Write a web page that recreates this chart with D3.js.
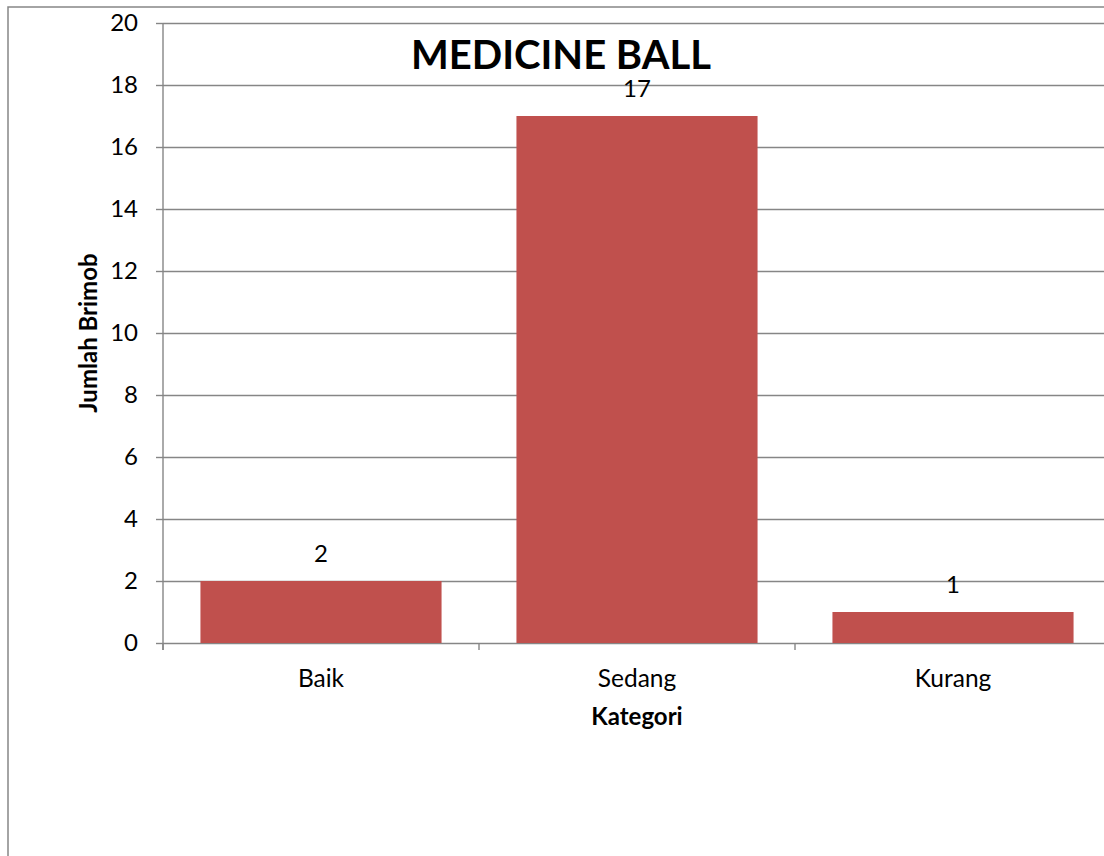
<!DOCTYPE html>
<html lang="en">
<head>
    <meta charset="UTF-8">
    <title>Medicine Ball</title>
    <style>
    body { margin: 0; background: #fff; }
    svg { display: block; font-family: Lato, "Noto Sans", sans-serif; }
    .grid line { stroke: #868686; stroke-width: 1.4px; }
    .grid path { display: none; }
    .axis path, .axis line { stroke: #868686; stroke-width: 1.4px; }
    .axis text { fill: #000; }
    </style>
</head>
<body>
    <svg width="1104" height="856"></svg>
    <script src="https://d3js.org/d3.v7.min.js"></script>
    <script type="text/javascript">
        var categories = ["Baik", "Sedang", "Kurang"];
        var values = [2, 17, 1];
        var yTicks = [0, 2, 4, 6, 8, 10, 12, 14, 16, 18, 20];

        var svg = d3.select("svg"),
            margin = {top: 23, left: 163},
            width = 948,
            height = 620,
            g = svg.append("g").attr("transform", "translate(" + margin.left + "," + margin.top + ")");

        // outer chart border (cropped at right and bottom)
        svg.append("rect")
            .attr("x", 8).attr("y", 7)
            .attr("width", 1120).attr("height", 880)
            .attr("fill", "none")
            .attr("stroke", "#868686")
            .attr("stroke-width", 1.5);

        var x = d3.scaleBand().domain(categories).range([0, width])
                .paddingInner(0.237).paddingOuter(0.1185),
            y = d3.scaleLinear().domain([0, 20]).range([height, 0]);

        // gridlines
        g.append("g")
            .attr("class", "grid")
            .call(d3.axisLeft(y).tickValues(yTicks).tickSize(-width).tickFormat(""));

        // bars
        g.selectAll(".bar")
            .data(values)
            .enter().append("rect")
              .attr("class", "bar")
              .attr("x", function(d, i) { return x(categories[i]); })
              .attr("y", function(d) { return y(d); })
              .attr("width", x.bandwidth())
              .attr("height", function(d) { return height - y(d); })
              .attr("fill", "#c0504d");

        // data labels
        g.selectAll(".label")
            .data(values)
            .enter().append("text")
              .attr("class", "label")
              .attr("x", function(d, i) { return x(categories[i]) + x.bandwidth() / 2; })
              .attr("y", function(d) { return y(d) - 19; })
              .attr("text-anchor", "middle")
              .attr("font-size", "24px")
              .text(function(d) { return d; });

        // y axis
        var yAxis = g.append("g")
            .attr("class", "axis axis-y")
            .call(d3.axisLeft(y).tickValues(yTicks).tickSize(7).tickSizeOuter(0).tickPadding(18));
        yAxis.selectAll("text").attr("font-size", "24px").attr("font-family", "Lato, sans-serif");
        yAxis.select(".domain").attr("d", "M0,0V" + (height + 7));

        // x axis: category labels plus boundary ticks
        var xAxis = g.append("g")
            .attr("class", "axis axis-x")
            .attr("transform", "translate(0," + height + ")")
            .call(d3.axisBottom(x).tickSize(0).tickSizeOuter(0).tickPadding(27));
        xAxis.selectAll("text").attr("font-size", "24.5px").attr("font-family", "Lato, sans-serif");
        xAxis.select(".domain").remove();

        var bounds = d3.range(categories.length + 1).map(function(i) {
            return x.step() * i;
        });
        xAxis.selectAll(".bound")
            .data(bounds)
            .enter().append("line")
              .attr("class", "bound")
              .attr("x1", function(d) { return d; })
              .attr("x2", function(d) { return d; })
              .attr("y1", 0).attr("y2", 7);

        // axis titles
        g.append("text")
            .attr("x", width / 2)
            .attr("y", height + 82)
            .attr("text-anchor", "middle")
            .attr("font-size", "24px")
            .attr("font-weight", "bold")
            .text("Kategori");

        g.append("text")
            .attr("transform", "rotate(-90)")
            .attr("x", -height / 2)
            .attr("y", -66)
            .attr("text-anchor", "middle")
            .attr("font-size", "24px")
            .attr("font-weight", "bold")
            .text("Jumlah Brimob");

        // chart title
        svg.append("text")
            .attr("x", 561)
            .attr("y", 69)
            .attr("text-anchor", "middle")
            .attr("font-size", "40px")
            .attr("font-weight", "bold")
            .text("MEDICINE BALL");
    </script>
</body>
</html>
